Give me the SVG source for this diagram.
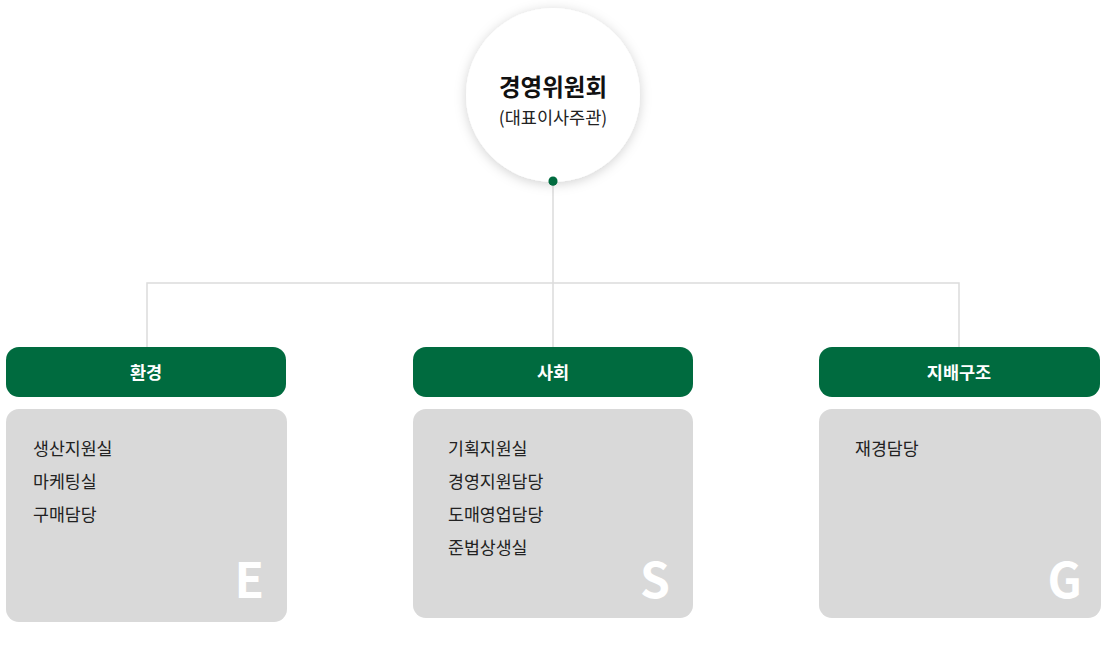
<svg xmlns="http://www.w3.org/2000/svg" width="1106" height="652" viewBox="0 0 1106 652">
<defs>
<filter id="sh" x="-30%" y="-30%" width="160%" height="160%">
<feDropShadow dx="0" dy="2" stdDeviation="6" flood-color="#000" flood-opacity="0.18"/>
</filter>
<style>
.t{font-family:"Noto Sans CJK KR","Noto Sans",sans-serif}
.hdr{fill:#006b3f}
.box{fill:#d9d9d9}
.ht{fill:#fff;font-size:17.5px;font-weight:700;text-anchor:middle}
.it{fill:#222;font-size:17.3px}
.big{fill:#fff;font-size:48px;font-weight:700;text-anchor:end}
.ln{stroke:#dcdcdc;stroke-width:1.5;fill:none}
</style>
</defs>
<g id="connectors">
<path class="ln" d="M553 181V347M147 347V283H959V347"/>
<circle cx="553" cy="181" r="4.5" fill="#006b3f"/>
</g>
<g id="root">
<circle cx="553" cy="95" r="87" fill="#fff" filter="url(#sh)"/>
<circle cx="553" cy="181" r="4.5" fill="#006b3f"/>
<text class="t" x="553" y="96" text-anchor="middle" font-size="23.5" font-weight="700" fill="#111">경영위원회</text>
<text class="t" x="553" y="124" text-anchor="middle" font-size="17.5" fill="#222">(대표이사주관)</text>
</g>
<g id="env">
<rect class="hdr" x="6" y="347" width="280" height="50" rx="13"/>
<text class="t ht" x="146" y="379">환경</text>
<rect class="box" x="6" y="409" width="281" height="213" rx="13"/>
<text class="t it" x="33" y="455">생산지원실</text>
<text class="t it" x="33" y="488">마케팅실</text>
<text class="t it" x="33" y="521">구매담당</text>
<text class="t big" x="264" y="598">E</text>
</g>
<g id="social">
<rect class="hdr" x="413" y="347" width="280" height="50" rx="13"/>
<text class="t ht" x="553" y="379">사회</text>
<rect class="box" x="413" y="409" width="280" height="209" rx="13"/>
<text class="t it" x="448" y="455">기획지원실</text>
<text class="t it" x="448" y="488">경영지원담당</text>
<text class="t it" x="448" y="521">도매영업담당</text>
<text class="t it" x="448" y="554">준법상생실</text>
<text class="t big" x="670" y="598">S</text>
</g>
<g id="gov">
<rect class="hdr" x="819" y="347" width="281" height="50" rx="13"/>
<text class="t ht" x="959" y="379">지배구조</text>
<rect class="box" x="819" y="409" width="282" height="209" rx="13"/>
<text class="t it" x="855" y="455">재경담당</text>
<text class="t big" x="1082" y="598">G</text>
</g>
</svg>
